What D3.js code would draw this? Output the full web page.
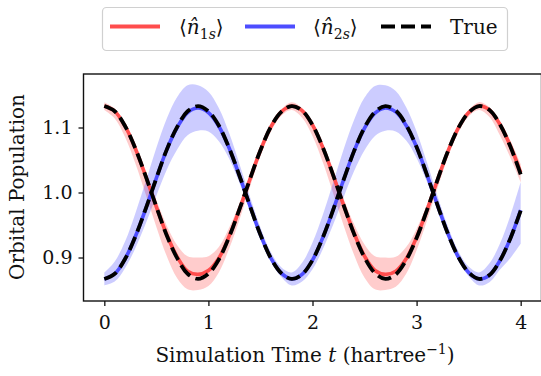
<!DOCTYPE html>
<html>
<head>
<meta charset="utf-8">
<script src="https://cdn.jsdelivr.net/npm/d3@7"></script>
<style>
  body { margin: 0; background: #fff; }
  svg text { font-family: "DejaVu Serif", serif; fill: #111; }
</style>
</head>
<body>
<svg id="chart" width="541" height="376"></svg>
<script>
// simulation time (hartree^-1)
const times = [0.0,0.1,0.2,0.3,0.4,0.5,0.6,0.7,0.8,0.9,1.0,1.1,1.2,1.3,1.4,1.5,1.6,1.7,1.8,1.9,2.0,
  2.1,2.2,2.3,2.4,2.5,2.6,2.7,2.8,2.9,3.0,3.1,3.2,3.3,3.4,3.5,3.6,3.7,3.8,3.9,4.0];

// exact populations
const trueN1s = [1.133,1.125,1.102,1.067,1.024,0.978,0.934,0.899,0.875,0.867,0.875,0.897,0.932,0.975,1.021,
  1.065,1.101,1.124,1.133,1.126,1.104,1.069,1.026,0.980,0.936,0.900,0.876,0.867,0.874,0.896,0.930,0.973,
  1.019,1.063,1.099,1.123,1.133,1.127,1.105,1.071,1.028];
const trueN2s = [0.867,0.875,0.898,0.933,0.976,1.022,1.066,1.101,1.125,1.133,1.125,1.103,1.068,1.025,0.979,
  0.935,0.899,0.876,0.867,0.874,0.896,0.931,0.974,1.020,1.064,1.100,1.124,1.133,1.126,1.104,1.070,1.027,
  0.981,0.937,0.901,0.877,0.867,0.873,0.895,0.929,0.972];

// estimated populations (mean)
const estN1s = [1.133,1.125,1.102,1.067,1.024,0.978,0.935,0.901,0.879,0.874,0.880,0.899,0.933,0.975,1.021,
  1.065,1.101,1.124,1.133,1.126,1.104,1.069,1.026,0.980,0.937,0.902,0.880,0.874,0.879,0.898,0.931,0.973,
  1.019,1.063,1.099,1.123,1.133,1.127,1.105,1.072,1.031];
const estN2s = [0.867,0.875,0.898,0.933,0.976,1.022,1.066,1.100,1.123,1.130,1.123,1.102,1.068,1.025,0.979,
  0.935,0.899,0.876,0.867,0.874,0.896,0.931,0.974,1.020,1.064,1.099,1.122,1.130,1.124,1.103,1.070,1.027,
  0.981,0.937,0.901,0.877,0.867,0.873,0.895,0.929,0.973];

// spread of the estimates
const n1sLow = [1.127,1.114,1.085,1.044,0.996,0.947,0.902,0.868,0.851,0.850,0.856,0.877,0.914,0.959,1.009,
  1.056,1.094,1.118,1.127,1.115,1.087,1.046,0.998,0.949,0.904,0.869,0.851,0.850,0.855,0.875,0.911,0.957,
  1.006,1.054,1.092,1.117,1.127,1.116,1.088,1.054,1.016];
const n1sHigh = [1.139,1.129,1.106,1.071,1.030,0.988,0.949,0.919,0.902,0.900,0.902,0.916,0.946,0.983,1.026,
  1.069,1.105,1.128,1.139,1.130,1.108,1.073,1.032,0.990,0.951,0.920,0.902,0.900,0.901,0.916,0.944,0.981,
  1.024,1.067,1.103,1.127,1.139,1.131,1.109,1.080,1.044];
const n2sLow = [0.857,0.863,0.884,0.915,0.953,0.995,1.035,1.066,1.088,1.095,1.094,1.079,1.052,1.014,0.973,
  0.930,0.894,0.870,0.857,0.863,0.882,0.913,0.951,0.993,1.033,1.065,1.087,1.095,1.094,1.080,1.053,1.016,
  0.975,0.932,0.896,0.871,0.857,0.862,0.881,0.899,0.921];
const n2sHigh = [0.877,0.894,0.925,0.969,1.018,1.069,1.114,1.147,1.165,1.165,1.155,1.130,1.091,1.043,0.993,
  0.946,0.908,0.885,0.877,0.892,0.923,0.966,1.016,1.067,1.112,1.146,1.164,1.165,1.156,1.131,1.094,1.046,
  0.995,0.948,0.910,0.886,0.877,0.891,0.921,0.964,1.016];

const xTicks = [0, 1, 2, 3, 4];
const yTicks = [0.9, 1.0, 1.1];

const svg = d3.select("#chart");
const plotLeft = 83.5, plotRight = 541.5, plotTop = 74, plotBottom = 301;

const x = d3.scaleLinear().domain([-0.2, 4.2]).range([plotLeft, plotRight]);
const y = d3.scaleLinear().domain([0.8331, 1.1823]).range([plotBottom, plotTop]);

const red = "rgb(255,77,77)", blue = "rgb(77,77,255)";
const dash = "14,6";

const plot = svg.append("g");

function band(lo, hi, color) {
  const area = d3.area()
    .x((d, i) => x(times[i]))
    .y0((d, i) => y(lo[i]))
    .y1((d, i) => y(hi[i]))
    .curve(d3.curveCatmullRom);
  plot.append("path").datum(lo).attr("d", area)
    .attr("fill", color).attr("fill-opacity", 0.2).attr("stroke", "none");
}

function line(vals, color, width, dashed) {
  const gen = d3.line()
    .x((d, i) => x(times[i]))
    .y(d => y(d))
    .curve(d3.curveCatmullRom);
  const p = plot.append("path").datum(vals).attr("d", gen)
    .attr("fill", "none").attr("stroke", color).attr("stroke-width", width);
  if (dashed) p.attr("stroke-dasharray", dashed);
}

band(n1sLow, n1sHigh, "rgb(255,0,0)");
band(n2sLow, n2sHigh, "rgb(0,0,255)");
line(estN1s, red, 3.6);
line(estN2s, blue, 3.6);
line(trueN1s, "#000", 3.8, dash);
line(trueN2s, "#000", 3.8, dash);

// frame
svg.append("rect").attr("x", plotLeft).attr("y", plotTop)
  .attr("width", plotRight - plotLeft).attr("height", plotBottom - plotTop)
  .attr("fill", "none").attr("stroke", "#111").attr("stroke-width", 1.4);

// axes
const xAxis = svg.append("g").attr("transform", `translate(0,${plotBottom})`)
  .call(d3.axisBottom(x).tickValues(xTicks).tickFormat(d3.format("d")).tickSize(5).tickPadding(8));
const yAxis = svg.append("g").attr("transform", `translate(${plotLeft},0)`)
  .call(d3.axisLeft(y).tickValues(yTicks).tickFormat(d3.format(".1f")).tickSize(5).tickPadding(6));
[xAxis, yAxis].forEach(g => {
  g.attr("font-family", null);
  g.select(".domain").remove();
  g.selectAll(".tick line").attr("stroke", "#111").attr("stroke-width", 1.3);
  g.selectAll(".tick text").attr("font-size", 19).attr("fill", "#111");
});
xAxis.selectAll(".tick text").attr("dy", "0.8em");

// axis titles
const xl = svg.append("text").attr("x", 305).attr("y", 362)
  .attr("text-anchor", "middle").attr("font-size", 20);
xl.append("tspan").text("Simulation Time ");
xl.append("tspan").attr("font-style", "italic").text("t");
xl.append("tspan").text(" (hartree");
xl.append("tspan").attr("font-size", 14).attr("dy", -8).text("\u22121");
xl.append("tspan").attr("dy", 8).text(")");

svg.append("text").attr("transform", "translate(24,187) rotate(-90)")
  .attr("text-anchor", "middle").attr("font-size", 20)
  .text("Orbital Population");

// legend
const lg = svg.append("g");
lg.append("rect").attr("x", 102.5).attr("y", 7.5).attr("width", 405).attr("height", 43)
  .attr("rx", 4).attr("fill", "#fff").attr("fill-opacity", 0.8)
  .attr("stroke", "#d0d0d0").attr("stroke-width", 1.2);

const entries = [
  { color: red, dashed: null, x0: 110, tx: 179, sub: "1s" },
  { color: blue, dashed: null, x0: 245, tx: 313, sub: "2s" },
  { color: "#000", dashed: dash, x0: 381, tx: 450, label: "True" }
];
entries.forEach(e => {
  const l = lg.append("line").attr("x1", e.x0).attr("x2", e.x0 + 50)
    .attr("y1", 26.5).attr("y2", 26.5)
    .attr("stroke", e.color).attr("stroke-width", 3.8);
  if (e.dashed) l.attr("stroke-dasharray", e.dashed);
  const t = lg.append("text").attr("x", e.tx).attr("y", 34).attr("font-size", 20);
  if (e.label) {
    t.text(e.label);
  } else {
    t.append("tspan").text("\u27e8");
    t.append("tspan").attr("font-style", "italic").text("n\u0302");
    t.append("tspan").attr("font-size", 14).attr("dy", 5).text(e.sub[0]);
    t.append("tspan").attr("font-size", 14).attr("font-style", "italic").text(e.sub[1]);
    t.append("tspan").attr("dy", -5).text("\u27e9");
  }
});
</script>
</body>
</html>
